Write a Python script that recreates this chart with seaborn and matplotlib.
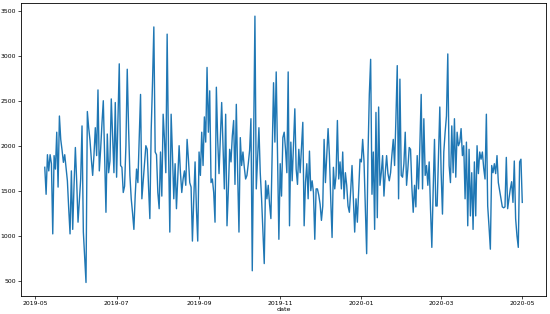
import numpy as np
import pandas as pd
import matplotlib
matplotlib.use("Agg")
import matplotlib.pyplot as plt
import seaborn as sns

start_date = "2019-05-08"

may_jun = [1760, 1460, 1900, 1720, 1900, 1800, 1020, 1890, 1740, 2150, 1540, 2330, 2070, 1950,
           1815, 1900, 1750, 1610, 1300, 1020, 1720, 1070, 1560, 1980, 1600, 1150, 1400, 1630,
           2220, 1040, 760, 480, 2380, 2200, 2060, 1850, 1670, 1900, 2200, 1890, 2620, 1720]
jun_aug = [1960, 2250, 2500, 1900, 1260, 2130, 1700, 1830, 2520, 2100, 1700, 2480, 1650, 2300,
           2910, 1780, 1760, 1480, 1550, 2000, 2850, 2200, 1670, 1410, 1250, 1070, 1450, 1740,
           1590, 2100, 2570, 1410, 1610, 1800, 2000, 1960, 1550, 1190, 2170, 2700, 3320, 1930,
           1900, 1480, 1300]
aug_sep = [1930, 1440, 2350, 2070, 1700, 3240, 2000, 1040, 2350, 1900, 1410, 1800, 1300, 1650,
           2000, 1700, 1480, 1630, 1720, 1560, 2070, 1850, 1590, 1540, 940, 1400, 1820, 1300,
           940, 1930, 1670, 2150, 1780, 2320, 2040, 2870, 2150, 2610, 1590, 1630, 1480, 1150,
           2650, 2070, 1690]
sep_nov = [2090, 2480, 2000, 1520, 2350, 1110, 1500, 1960, 1820, 2110, 2280, 1570, 2460, 1700,
           1040, 2090, 1780, 1930, 1760, 1630, 1670, 1800, 1950, 2300, 610, 2040, 3440, 1520,
           1850, 2200, 1700, 1410, 1050, 690, 1610, 1410, 1560, 1350, 1190, 1960, 2700, 2040,
           2820, 1890, 960]
nov_dec = [1800, 1440, 2090, 2150, 1960, 1700, 2820, 1110, 2040, 1610, 2000, 2410, 1740, 1570,
           1960, 1700, 1980, 2260, 1110, 1590, 1800, 1410, 1940, 1500, 1610, 1480, 960, 1520,
           1520, 1450, 1350, 1170, 1330, 2070, 1590, 1900, 2190, 1890, 1400, 980, 1760, 1520,
           1670, 2280, 1630]
dec_feb = [1820, 1520, 1930, 1410, 1700, 1560, 1330, 1260, 1500, 1780, 1400, 1040, 1410, 1150,
           1500, 1850, 1820, 2070, 1830, 1300, 800, 1890, 2570, 2960, 1460, 1930, 1070, 2370,
           1200, 2430, 1560, 1700, 1890, 1440, 1700, 1890, 1690, 1610, 1700, 1900, 2070, 1780,
           2300, 2890, 1410, 2740]
feb_may = [1670, 1650, 1800, 2150, 1560, 1750, 1980, 1960, 1540, 1260,
           1560, 1320, 1890, 1520, 2000, 2570, 1520, 2300, 1670, 1780,
           1560, 1820, 1300, 870, 1500, 2070, 1330, 1330, 1900, 2430,
           1700, 1240, 1930, 2150, 2330, 3020, 1780, 1590, 2220, 1700,
           2300, 1650, 2150, 2000, 2040, 2190, 1890, 2000, 1410, 2040,
           1110, 1960, 1220, 1700, 1070, 1820, 1220, 2000, 1690, 1930,
           1850, 1930, 1750, 1630, 2350, 1330, 1100, 850, 1780, 1700,
           1800, 1690, 1890, 1590, 1500, 1410, 1320, 1310, 1320, 1870,
           1300, 1410, 1520, 1600, 1370, 1830, 1190, 1000, 870, 1820,
           1850, 1370]

values = may_jun + jun_aug + aug_sep + sep_nov + nov_dec + dec_feb + feb_may
dates = pd.date_range(start_date, periods=len(values), freq="D")
df = pd.DataFrame({"date": dates, "value": values})

plt.rcParams["font.family"] = ["DejaVu Sans"]
fig = plt.figure(figsize=(5.5, 3.14), dpi=100)
ax = fig.add_axes([0.038, 0.058, 0.955, 0.933])
sns.lineplot(data=df, x="date", y="value", ax=ax, color="#1f77b4", linewidth=1.0)
ax.set_ylabel("")
ax.set_xlabel("date", fontsize=4.6, labelpad=1)
ax.tick_params(labelsize=4.4, length=2, width=0.5, pad=1.5)
for s in ax.spines.values():
    s.set_linewidth(0.6)
fig.savefig("out.png", dpi=100)
